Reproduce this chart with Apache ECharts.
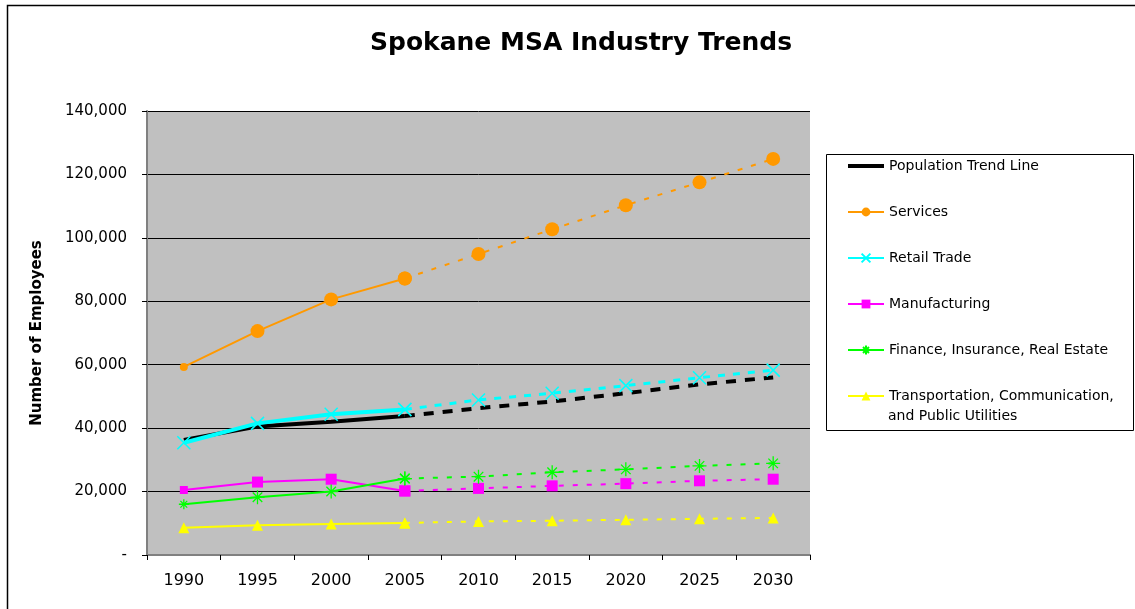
<!DOCTYPE html>
<html>
<head>
<meta charset="utf-8">
<script src="https://cdn.jsdelivr.net/npm/echarts@6/dist/echarts.min.js"></script>
<style>html,body{margin:0;padding:0;background:#fff}#c{width:1135px;height:609px}</style>
</head>
<body>
<div id="c"></div>
<script>
const years = ['1990','1995','2000','2005','2010','2015','2020','2025','2030'];
const yTicks = [0, 20000, 40000, 60000, 80000, 100000, 120000, 140000];
const population    = [36300, 40500, 42000, 43800, 46300, 48400, 51000, 53800, 56000];
const services      = [59300, 70600, 80600, 87200, 94900, 102700, 110300, 117500, 124900];
const retail        = [35400, 41500, 44400, 45900, 48900, 51000, 53400, 55900, 58300];
const manufacturing = [20500, 23000, 23900, 20200, 21000, 21800, 22500, 23400, 23900];
const finance       = [16000, 18200, 20000, 24100, 24700, 26100, 27000, 28100, 28900];
const transport     = [8600, 9400, 9800, 10100, 10600, 10800, 11100, 11400, 11700];
const actualCount = 4; // 1990-2005 actual, rest projected

const FONT = '"DejaVu Sans", "Liberation Sans", Arial, sans-serif';
const X_PATH = 'path://M0,0L10,10M10,0L0,10';
const STAR_PATH = 'path://M5,0L5,10M0,5L10,5M1.6,1.6L8.4,8.4M8.4,1.6L1.6,8.4';

function solidPart(arr) { return arr.map((v, i) => i < actualCount ? v : null); }
function projPart(arr) { return arr.map((v, i) => i >= actualCount - 1 ? v : null); }

const defs = [
  {name: 'Population Trend Line', data: population, color: '#000000', width: 4, symbol: 'none', size: 0, small: 0, dash: [10, 9]},
  {name: 'Services', data: services, color: '#FF9900', width: 2, symbol: 'circle', size: 14, small: 8, dash: [5, 9]},
  {name: 'Retail Trade', data: retail, color: '#00FFFF', width: 4, projWidth: 3, symbol: X_PATH, size: 13, small: 13, dash: [7, 8], stroke: 1.5},
  {name: 'Manufacturing', data: manufacturing, color: '#FF00FF', width: 2, symbol: 'rect', size: 11, small: 8, dash: [5, 9]},
  {name: 'Finance, Insurance, Real Estate', data: finance, color: '#00FF00', width: 2, symbol: STAR_PATH, size: 14, small: 10, dash: [5, 9], stroke: 1.3},
  {name: 'Transportation, Communication,\nand Public Utilities', data: transport, color: '#FFFF00', width: 2, symbol: 'triangle', size: 11, small: 11, dash: [5, 9]}
];

const series = [];
defs.forEach(d => {
  const itemStyle = {color: d.color};
  if (d.stroke) { itemStyle.borderColor = d.color; itemStyle.borderWidth = d.stroke; }
  series.push({
    name: d.name, type: 'line', data: solidPart(d.data),
    symbol: d.symbol, showAllSymbol: true,
    symbolSize: (v, p) => p.dataIndex === 0 ? d.small : d.size,
    lineStyle: {color: d.color, width: d.width, type: 'solid'},
    itemStyle: itemStyle, connectNulls: false, animation: false, z: 2
  });
});
defs.forEach(d => {
  const itemStyle = {color: d.color};
  if (d.stroke) { itemStyle.borderColor = d.color; itemStyle.borderWidth = d.stroke; }
  series.push({
    name: d.name + ' (projected)', type: 'line', data: projPart(d.data),
    symbol: d.symbol, showAllSymbol: true,
    symbolSize: d.size,
    lineStyle: {color: d.color, width: d.projWidth || d.width, type: d.dash},
    itemStyle: itemStyle, connectNulls: false, animation: false, z: 2
  });
});

const lastName = defs[defs.length - 1].name;
const chart = echarts.init(document.getElementById('c'), null, {renderer: 'canvas'});
chart.setOption({
  backgroundColor: '#ffffff',
  animation: false,
  title: {
    text: 'Spokane MSA Industry Trends', left: 365, top: 26,
    textStyle: {fontFamily: FONT, fontSize: 25, fontWeight: 'bold', color: '#000'}
  },
  grid: {left: 147, right: 325, top: 111, bottom: 54, show: true, backgroundColor: '#C0C0C0', borderWidth: 0},
  legend: {
    orient: 'vertical', left: 841, top: 151,
    itemWidth: 36, itemHeight: 11, itemGap: 26,
    textStyle: {fontFamily: FONT, fontSize: 14, color: '#000', lineHeight: 20},
    lineStyle: {width: 2},
    formatter: name => name.split('\n')[0],
    data: defs.map((d, i) => {
      const o = {name: d.name};
      if (i === 0) { o.lineStyle = {width: 4}; o.itemStyle = {color: 'rgba(0,0,0,0)', borderWidth: 0}; }
      return o;
    })
  },
  xAxis: {
    type: 'category', data: years, boundaryGap: true,
    axisLine: {lineStyle: {color: '#808080', width: 2}},
    axisTick: {show: true, length: 5, lineStyle: {color: '#000'}},
    axisLabel: {fontFamily: FONT, fontSize: 16, color: '#000', margin: 18}
  },
  yAxis: {
    type: 'value', min: 0, max: 140000, interval: 20000,
    name: 'Number of Employees', nameLocation: 'middle', nameGap: 102, nameRotate: 90,
    nameTextStyle: {fontFamily: FONT, fontSize: 15, fontWeight: 'bold', color: '#000'},
    axisLine: {show: true, lineStyle: {color: '#808080', width: 2}},
    axisTick: {show: true, length: 5, lineStyle: {color: '#000'}},
    splitLine: {show: true, lineStyle: {color: '#000', width: 1}},
    axisLabel: {
      fontFamily: FONT, fontSize: 15, color: '#000', margin: 20,
      formatter: v => yTicks.indexOf(v) === 0 ? '-' : v.toLocaleString('en-US')
    }
  },
  graphic: [
    {type: 'polyline', shape: {points: [[7.5, 620], [7.5, 5.5], [1140, 5.5]]}, style: {fill: 'none', stroke: '#000', lineWidth: 1.5}, silent: true, z: -1},
    {type: 'rect', left: 826, top: 154, shape: {x: 0.5, y: 0.5, width: 307, height: 276}, style: {fill: '#fff', stroke: '#000', lineWidth: 1}, silent: true, z: -1},
    {type: 'text', x: 888, y: 416, silent: true, z: 10,
      style: {text: lastName.split('\n')[1], font: '14px ' + FONT, fill: '#000', verticalAlign: 'middle', align: 'left'}}
  ],
  series: series
});
</script>
</body>
</html>
